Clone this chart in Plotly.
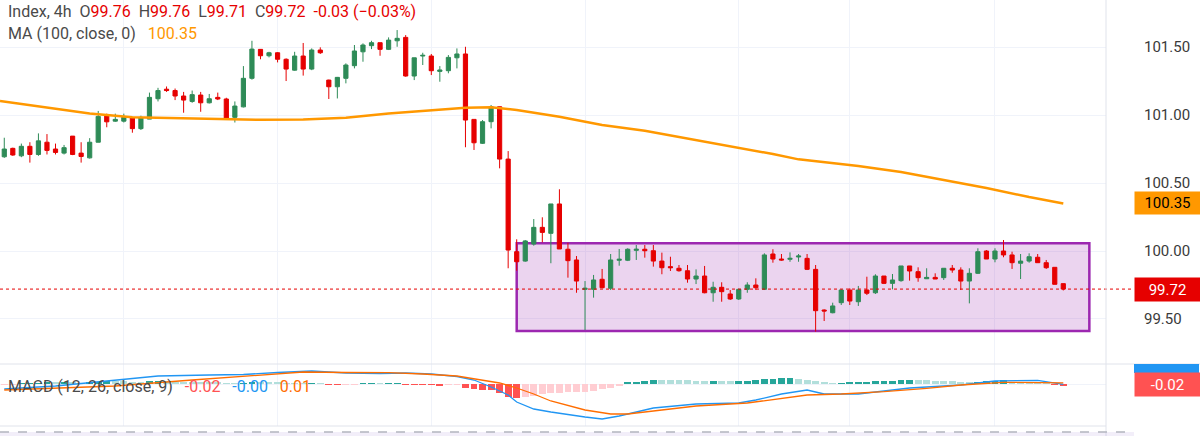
import plotly.graph_objects as go

# 4h candles, index 0..124
opens = [100.693, 100.755, 100.70, 100.77, 100.71, 100.80, 100.75, 100.72, 100.845, 100.72,
         100.685, 100.80, 101.00, 100.955, 100.955, 100.98, 100.90, 100.97, 101.12, 101.19,
         101.18, 101.14, 101.10, 101.147, 101.09, 101.13, 101.118, 100.983, 101.06, 101.27,
         101.483, 101.436, 101.458, 101.41, 101.33, 101.434, 101.338, 101.478, 101.257, 101.208,
         101.27, 101.363, 101.465, 101.51, 101.532, 101.483, 101.546, 101.571, 101.287, 101.434,
         101.434, 101.321, 101.326, 101.421, 101.449, 100.968, 100.792, 100.951, 101.061, 100.676,
         99.995, 99.926, 100.051, 100.174, 100.13, 100.346, 100.013, 99.934, 99.718, 99.718,
         99.792, 99.726, 99.932, 99.932, 100.005, 100.013, 100.002, 99.926, 99.885, 99.873,
         99.855, 99.794, 99.816, 99.693, 99.733, 99.684, 99.647, 99.718, 99.75, 99.718,
         99.978, 99.941, 99.939, 99.956, 99.946, 99.865, 99.566, 99.546, 99.62, 99.713,
         99.627, 99.713, 99.693, 99.816, 99.762, 99.782, 99.89, 99.848, 99.796, 99.806,
         99.804, 99.873, 99.86, 99.779, 99.836, 100.0, 99.941, 100.0, 99.971, 99.91,
         99.926, 99.954, 99.914, 99.88, 99.76]
highs = [100.833, 100.76, 100.79, 100.80, 100.865, 100.86, 100.79, 100.78, 100.845, 100.80,
         100.83, 101.03, 101.01, 101.01, 101.01, 100.985, 100.995, 101.165, 101.20, 101.21,
         101.195, 101.17, 101.18, 101.17, 101.155, 101.165, 101.127, 101.10, 101.36, 101.546,
         101.485, 101.465, 101.463, 101.417, 101.465, 101.53, 101.49, 101.498, 101.26, 101.28,
         101.38, 101.515, 101.527, 101.546, 101.532, 101.571, 101.625, 101.588, 101.421, 101.458,
         101.449, 101.36, 101.441, 101.49, 101.502, 100.968, 100.963, 101.074, 101.061, 100.735,
         100.086, 100.081, 100.235, 100.248, 100.346, 100.454, 100.061, 99.963, 99.779, 99.824,
         99.868, 99.978, 100.015, 100.02, 100.044, 100.044, 100.044, 99.988, 99.958, 99.897,
         99.897, 99.865, 99.89, 99.774, 99.77, 99.713, 99.723, 99.77, 99.799, 99.983,
         100.013, 99.978, 99.99, 99.978, 99.978, 99.897, 99.571, 99.62, 99.718, 99.726,
         99.743, 99.811, 99.829, 99.816, 99.831, 99.89, 99.89, 99.88, 99.873, 99.836,
         99.873, 99.897, 99.88, 99.873, 100.02, 100.007, 100.02, 100.081, 99.995, 99.978,
         99.983, 99.978, 99.934, 99.88, 99.76]
lows = [100.685, 100.70, 100.69, 100.65, 100.70, 100.71, 100.71, 100.71, 100.705, 100.65,
        100.68, 100.80, 100.91, 100.95, 100.945, 100.87, 100.89, 100.97, 101.10, 101.17,
        101.11, 101.017, 101.09, 101.024, 101.085, 101.11, 100.968, 100.945, 101.056, 101.26,
        101.41, 101.424, 101.387, 101.25, 101.326, 101.29, 101.33, 101.449, 101.118, 101.122,
        101.233, 101.343, 101.392, 101.485, 101.436, 101.478, 101.502, 101.282, 101.257, 101.368,
        101.294, 101.245, 101.307, 101.343, 100.763, 100.743, 100.787, 100.902, 100.608, 99.873,
        99.855, 99.921, 100.039, 100.064, 99.91, 100.015, 99.804, 99.693, 99.419, 99.657,
        99.726, 99.713, 99.892, 99.926, 99.934, 99.951, 99.885, 99.829, 99.853, 99.848,
        99.767, 99.757, 99.689, 99.627, 99.627, 99.64, 99.64, 99.693, 99.713, 99.713,
        99.914, 99.929, 99.921, 99.921, 99.86, 99.407, 99.485, 99.542, 99.603, 99.603,
        99.596, 99.676, 99.684, 99.757, 99.718, 99.774, 99.782, 99.774, 99.794, 99.794,
        99.787, 99.84, 99.713, 99.615, 99.831, 99.941, 99.917, 99.954, 99.868, 99.794,
        99.914, 99.914, 99.868, 99.755, 99.71]
closes = [100.75, 100.706, 100.77, 100.71, 100.81, 100.74, 100.725, 100.76, 100.71, 100.695,
          100.80, 100.99, 100.95, 100.968, 100.983, 100.90, 100.983, 101.13, 101.18, 101.18,
          101.14, 101.11, 101.15, 101.09, 101.12, 101.118, 100.976, 101.066, 101.27, 101.485,
          101.436, 101.458, 101.41, 101.338, 101.434, 101.338, 101.478, 101.458, 101.208, 101.277,
          101.368, 101.471, 101.515, 101.532, 101.483, 101.551, 101.564, 101.287, 101.421, 101.439,
          101.326, 101.331, 101.424, 101.449, 100.963, 100.796, 100.951, 101.061, 100.676, 100.007,
          99.921, 100.074, 100.174, 100.137, 100.346, 100.015, 99.929, 99.779, 99.726, 99.787,
          99.73, 99.934, 99.939, 100.013, 100.013, 100.002, 99.926, 99.877, 99.877, 99.855,
          99.794, 99.816, 99.693, 99.733, 99.701, 99.647, 99.718, 99.75, 99.73, 99.971,
          99.941, 99.934, 99.946, 99.963, 99.865, 99.561, 99.559, 99.596, 99.713, 99.632,
          99.713, 99.689, 99.816, 99.762, 99.787, 99.89, 99.853, 99.804, 99.806, 99.794,
          99.873, 99.86, 99.779, 99.836, 99.995, 99.941, 100.0, 99.971, 99.914, 99.926,
          99.958, 99.914, 99.877, 99.755, 99.72]
bars = list(range(len(closes)))

# MA (100, close) sampled along the line
ma_x = [-0.5, 5, 10, 15, 20, 25, 28, 30, 35, 40, 45, 50, 54, 57, 60, 65, 70, 75, 80, 85,
        90, 93, 100, 105, 110, 115, 120, 124]
ma_v = [101.103, 101.057, 101.012, 100.983, 100.976, 100.968, 100.963, 100.965, 100.968,
        100.98, 101.012, 101.037, 101.054, 101.057, 101.037, 100.988, 100.926, 100.885,
        100.828, 100.767, 100.713, 100.674, 100.625, 100.581, 100.522, 100.463, 100.397, 100.35]

# MACD (12, 26, close, 9)
hist = [-0.01, -0.006, 0.002, 0.006, 0.01, 0.012, 0.011, 0.013, 0.012, 0.01,
        0.014, 0.024, 0.028, 0.027, 0.026, 0.022, 0.02, 0.026, 0.03, 0.028,
        0.025, 0.021, 0.019, 0.015, 0.013, 0.011, 0.005, 0.004, 0.01, 0.02,
        0.018, 0.016, 0.013, 0.009, 0.008, 0.005, 0.006, 0.004, -0.005, -0.006,
        -0.004, -0.001, 0.001, 0.003, 0.002, 0.003, 0.004, -0.003, -0.006, -0.007,
        -0.009, -0.011, -0.01, -0.009, -0.035, -0.05, -0.055, -0.06, -0.09, -0.13,
        -0.14, -0.128, -0.115, -0.1, -0.088, -0.085, -0.082, -0.08, -0.076, -0.066,
        -0.052, -0.036, -0.02, 0.015, 0.025, 0.035, 0.045, 0.044, 0.042, 0.04,
        0.036, 0.032, 0.03, 0.03, 0.029, 0.028, 0.03, 0.033, 0.038, 0.048,
        0.055, 0.058, 0.06, 0.055, 0.045, 0.03, 0.012, 0.008, 0.01, 0.012,
        0.022, 0.025, 0.03, 0.033, 0.035, 0.038, 0.04, 0.038, 0.036, 0.033,
        0.03, 0.027, 0.024, 0.022, 0.025, 0.03, 0.034, 0.036, 0.025, 0.018,
        0.012, 0.007, 0.003, -0.006, -0.016]
macd_x = [0, 6, 12, 18, 24, 28, 32, 36, 38, 40, 44, 47, 50, 53, 55, 57, 59, 60, 62, 64,
          68, 70, 72, 76, 81, 86, 88, 91, 94, 96, 100, 106, 112, 116, 121, 124]
macd_v = [-0.05, -0.02, 0.03, 0.08, 0.09, 0.095, 0.115, 0.13, 0.12, 0.11, 0.105, 0.11,
          0.1, 0.075, 0.04, -0.03, -0.11, -0.18, -0.25, -0.28, -0.33, -0.35, -0.32, -0.24,
          -0.20, -0.19, -0.16, -0.10, -0.06, -0.10, -0.10, -0.04, -0.01, 0.03, 0.037, -0.003]
sig_x = [0, 6, 13, 22, 30, 35, 40, 45, 49, 53, 58, 60, 62, 64, 68, 71, 73, 76, 81, 87,
         94, 98, 103, 108, 112, 117, 124]
sig_v = [-0.06, -0.04, -0.02, 0.04, 0.09, 0.12, 0.115, 0.113, 0.10, 0.08, 0.01, -0.04,
         -0.10, -0.17, -0.26, -0.30, -0.30, -0.27, -0.22, -0.19, -0.11, -0.10, -0.077,
         -0.043, -0.01, 0.017, 0.012]

price_ticks = [99.5, 100.0, 100.5, 101.0, 101.5]
price_labels = ["99.50", "100.00", "100.50", "101.00", "101.50"]
grid_bars = [14, 32, 50, 68, 86, 99, 116]

box_x = [60.0, 127.05]
box_y = [99.412, 100.057]
last_price = 99.72
ma_last = 100.35

GREEN = "#2e8b57"
RED = "#e60000"
GRID = "#f0f3fa"
TXT = "#4a4a4a"
FAMILY = "Roboto, DejaVu Sans, sans-serif"
PX_W, PLOT_W, H = 1200, 1106, 436


def px_x(p):
    return p / PLOT_W


def px_y(p):
    return 1 - p / H


hist_colors = []
for i, v in enumerate(hist):
    prev = hist[i - 1] if i else v
    if v >= 0:
        hist_colors.append("#26a69a" if v >= prev else "#b2dfdb")
    else:
        hist_colors.append("#ff5252" if v < prev else "#ffcdd2")

fig = go.Figure()
fig.add_trace(go.Candlestick(
    x=bars, open=opens, high=highs, low=lows, close=closes,
    increasing=dict(line=dict(color=GREEN, width=1), fillcolor=GREEN),
    decreasing=dict(line=dict(color=RED, width=1), fillcolor=RED),
    whiskerwidth=0, showlegend=False, hoverinfo="skip", xaxis="x", yaxis="y"))
fig.add_trace(go.Scatter(x=ma_x, y=ma_v, mode="lines", line=dict(color="#ff9800", width=2.5),
                         showlegend=False, hoverinfo="skip", xaxis="x", yaxis="y"))
fig.add_trace(go.Bar(x=bars, y=hist, marker=dict(color=hist_colors, line=dict(width=0)),
                     width=0.8, showlegend=False, hoverinfo="skip", xaxis="x2", yaxis="y2"))
fig.add_trace(go.Scatter(x=macd_x, y=macd_v, mode="lines", line=dict(color="#2196f3", width=1.3),
                         showlegend=False, hoverinfo="skip", xaxis="x2", yaxis="y2"))
fig.add_trace(go.Scatter(x=sig_x, y=sig_v, mode="lines", line=dict(color="#ff6d00", width=1.3),
                         showlegend=False, hoverinfo="skip", xaxis="x2", yaxis="y2"))

shapes = [
    dict(type="rect", xref="x", yref="y", x0=box_x[0], x1=box_x[1], y0=box_y[0], y1=box_y[1],
         line=dict(color="#9c27b0", width=2.5), fillcolor="rgba(156,39,176,0.2)", layer="between"),
    dict(type="line", xref="paper", yref="y", x0=0, x1=px_x(1134), y0=last_price, y1=last_price,
         line=dict(color=RED, width=1, dash="dot")),
    dict(type="line", xref="paper", yref="paper", x0=0, x1=px_x(PX_W), y0=px_y(364), y1=px_y(364),
         line=dict(color="#e0e3eb", width=1)),
    dict(type="line", xref="paper", yref="paper", x0=1, x1=1, y0=0, y1=1,
         line=dict(color="#e0e3eb", width=1)),
    dict(type="line", xref="paper", yref="paper", x0=0, x1=1, y0=px_y(426), y1=px_y(426),
         line=dict(color="#e0e3eb", width=1)),
    dict(type="rect", xref="paper", yref="paper", x0=0, x1=px_x(1134), y0=0, y1=px_y(432),
         line=dict(width=0), fillcolor="rgba(126,87,194,0.1)"),
    dict(type="line", xref="paper", yref="paper", x0=0, x1=px_x(1134), y0=px_y(432), y1=px_y(432),
         line=dict(color="#b2b5be", width=1.5, dash="dash")),
    dict(type="rect", xref="paper", yref="paper", x0=px_x(1134), x1=px_x(1199),
         y0=px_y(373), y1=px_y(364), line=dict(width=0), fillcolor="#2196f3"),
]

sp = "&nbsp;&nbsp;&nbsp;"
sp2 = "&nbsp;&nbsp;"
legend1 = (f"Index, 4h{sp2}O<span style='color:#e60000'>99.76</span>{sp2}"
           f"H<span style='color:#e60000'>99.76</span>{sp2}"
           f"L<span style='color:#e60000'>99.71</span>{sp2}"
           f"C<span style='color:#e60000'>99.72</span>{sp2}"
           "<span style='color:#e60000'>-0.03 (−0.03%)</span>")
legend2 = f"MA (100, close, 0){sp}<span style='color:#ff9800'>100.35</span>"
legend3 = (f"MACD (12, 26, close, 9){sp}<span style='color:#ff5252'>-0.02</span>{sp}"
           f"<span style='color:#2196f3'>-0.00</span>{sp}<span style='color:#ff6d00'>0.01</span>")

font = dict(family=FAMILY, size=16, color=TXT)
tag_font = dict(family=FAMILY, size=15)
annotations = [
    dict(xref="paper", yref="paper", x=px_x(6), y=px_y(11), xanchor="left", yanchor="middle",
         text=legend1, showarrow=False, font=font),
    dict(xref="paper", yref="paper", x=px_x(6), y=px_y(33), xanchor="left", yanchor="middle",
         text=legend2, showarrow=False, font=font),
    dict(xref="paper", yref="paper", x=px_x(6), y=px_y(386), xanchor="left", yanchor="middle",
         text=legend3, showarrow=False, font=font),
    dict(xref="paper", yref="y", x=px_x(1134), y=ma_last, xanchor="left", yanchor="middle",
         text=f"{ma_last:.2f}", showarrow=False, bgcolor="#ff9800", width=61, height=18,
         borderpad=2, font=dict(tag_font, color="#000000")),
    dict(xref="paper", yref="y", x=px_x(1134), y=last_price, xanchor="left", yanchor="middle",
         text=f"{last_price:.2f}", showarrow=False, bgcolor=RED, width=61, height=19,
         borderpad=2, font=dict(tag_font, color="#ffffff")),
    dict(xref="paper", yref="paper", x=px_x(1134), y=px_y(384), xanchor="left", yanchor="middle",
         text=f"{hist[-1]:.2f}", showarrow=False, bgcolor="#ff5252", width=61, height=19,
         borderpad=2, font=dict(tag_font, color="#ffffff")),
]

fig.update_layout(
    width=PX_W, height=H, margin=dict(l=0, r=PX_W - PLOT_W, t=0, b=0),
    paper_bgcolor="white", plot_bgcolor="white", font=font,
    shapes=shapes, annotations=annotations, bargap=0, hovermode=False,
    xaxis=dict(domain=[0, 1], range=[-0.5, 129.0], tickvals=grid_bars, showticklabels=False,
               showgrid=True, gridcolor=GRID, zeroline=False, rangeslider=dict(visible=False),
               anchor="y", fixedrange=True),
    yaxis=dict(domain=[px_y(364), 1], range=[99.169, 101.846], side="right",
               tickvals=price_ticks, ticktext=price_labels, showgrid=True, gridcolor=GRID,
               zeroline=False, ticks="", ticklabelstandoff=37, anchor="x",
               tickfont=dict(family=FAMILY, size=15, color="#3a3a3a")),
    xaxis2=dict(domain=[0, 1], matches="x", tickvals=grid_bars, showticklabels=False,
                showgrid=True, gridcolor=GRID, zeroline=False, anchor="y2"),
    yaxis2=dict(domain=[px_y(426), px_y(364)], range=[-0.42, 0.20], side="right",
                showticklabels=False, tickvals=[0], showgrid=True, gridcolor=GRID,
                zeroline=False, anchor="x2"),
)

fig.write_html("out.html", config={"displayModeBar": False},
               post_script="document.body.style.margin='0';")
